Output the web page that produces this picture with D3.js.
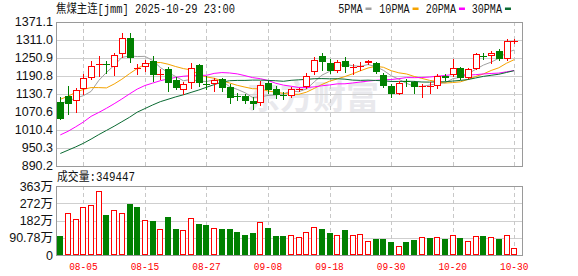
<!DOCTYPE html>
<html><head><meta charset="utf-8">
<script src="https://cdn.jsdelivr.net/npm/d3@7/dist/d3.min.js"></script>
<style>body{margin:0;background:#fff}svg{display:block}</style>
</head><body><svg id="c" width="578" height="276"></svg>
<script>
const dates = ["07-31","08-01","08-04","08-05","08-06","08-07","08-08","08-11","08-12","08-13","08-14","08-15","08-18","08-19","08-20","08-21","08-22","08-25","08-26","08-27","08-28","08-29","09-01","09-02","09-03","09-04","09-05","09-08","09-09","09-10","09-11","09-12","09-15","09-16","09-17","09-18","09-19","09-22","09-23","09-24","09-25","09-26","09-29","09-30","10-09","10-10","10-13","10-14","10-15","10-16","10-17","10-20","10-21","10-22","10-23","10-24","10-27","10-28","10-29","10-30"];
const open = [1103.9,1122.9,1106.2,1145.3,1183.1,1227.2,1231.5,1219.8,1262.2,1317.7,1214.8,1220.8,1239.8,1195.4,1214.8,1176.4,1143.0,1165.4,1226.5,1164.7,1161.4,1179.1,1153.0,1122.9,1122.9,1106.2,1098.6,1166.4,1145.3,1126.3,1121.3,1144.3,1152.0,1203.1,1256.5,1234.2,1206.4,1239.8,1218.1,1221.5,1234.8,1233.2,1192.4,1156.3,1131.3,1171.4,1168.1,1154.7,1152.3,1156.3,1188.1,1193.1,1217.5,1184.7,1214.8,1257.2,1255.5,1273.2,1246.5,1305.6];
const high = [1119.6,1156.3,1150.7,1196.4,1238.9,1257.5,1241.5,1267.6,1332.4,1334.4,1229.8,1243.2,1256.5,1214.8,1219.8,1186.4,1169.7,1234.2,1230.8,1188.1,1183.1,1182.1,1161.4,1133.9,1131.3,1119.6,1173.0,1174.7,1156.3,1136.3,1153.0,1149.7,1200.8,1254.2,1265.6,1245.5,1243.2,1252.2,1229.8,1236.5,1243.2,1236.5,1199.8,1163.0,1171.4,1179.7,1173.0,1162.0,1168.1,1196.4,1196.4,1244.9,1219.8,1218.1,1266.6,1268.2,1271.6,1279.9,1311.7,1313.3];
const low = [1044.5,1062.8,1071.2,1129.6,1178.1,1189.8,1199.8,1193.1,1252.2,1235.5,1196.4,1206.4,1174.0,1179.7,1139.6,1146.3,1129.6,1150.7,1156.3,1144.7,1138.0,1139.6,1099.6,1109.6,1098.6,1078.5,1092.9,1133.0,1117.3,1112.9,1119.6,1139.6,1149.7,1196.4,1209.8,1198.8,1203.1,1204.1,1196.4,1209.8,1228.2,1199.8,1153.0,1120.6,1129.6,1156.3,1133.0,1120.6,1133.0,1149.7,1176.4,1189.7,1178.1,1183.1,1213.1,1246.5,1233.2,1243.2,1243.2,1300.0];
const close = [1046.1,1096.2,1144.0,1182.1,1223.2,1229.2,1229.8,1260.9,1315.7,1248.9,1218.1,1233.2,1193.1,1197.4,1166.4,1149.7,1162.0,1217.5,1165.4,1162.4,1175.7,1149.7,1117.9,1120.3,1106.2,1096.2,1158.7,1143.0,1127.9,1124.6,1144.7,1146.3,1189.7,1244.2,1237.5,1207.4,1235.5,1220.8,1220.5,1224.8,1238.2,1202.1,1158.0,1131.3,1165.4,1169.7,1151.4,1156.3,1154.7,1188.1,1184.7,1218.1,1182.1,1213.1,1262.6,1254.9,1267.6,1246.5,1306.7,1306.7];
// volume in 万手
const vol = [100.0,219.2,187.6,250.8,263.0,334.9,210.4,235.0,219.2,268.3,250.8,182.4,178.9,135.0,199.9,136.8,129.8,192.9,163.1,157.8,140.3,136.8,136.8,121.0,105.2,115.7,171.9,142.0,100.0,100.0,103.5,92.9,119.2,145.5,136.8,115.7,103.5,129.8,103.5,108.7,73.7,84.2,84.2,70.1,45.6,70.1,78.9,92.9,89.4,92.9,84.2,103.5,89.4,73.7,98.2,100.0,92.9,84.2,103.5,34.9447];
// 1 = rose vs previous settlement (red), 0 = fell (green)
const volUp = [0,1,1,1,1,1,0,1,1,0,0,1,0,1,0,0,1,1,0,0,1,0,0,0,0,0,1,0,0,0,1,1,1,1,0,0,1,0,1,1,1,0,0,0,1,0,0,1,0,1,0,1,0,1,1,0,1,0,1,1];
const ma5 = [1097,1106,1116,1124,1138.3,1174.9,1201.7,1225.0,1251.8,1256.9,1254.7,1255.4,1241.8,1218.1,1201.6,1188.0,1173.7,1178.6,1172.2,1171.4,1176.6,1174.1,1154.2,1145.2,1134.0,1118.1,1119.9,1124.9,1126.4,1130.1,1139.8,1137.3,1146.6,1169.9,1192.5,1205.0,1222.9,1229.1,1224.3,1221.8,1228.0,1221.3,1208.7,1190.9,1179.0,1165.3,1155.2,1154.8,1159.5,1164.0,1167.0,1180.4,1185.5,1197.2,1212.1,1226.2,1236.1,1248.9,1267.7,1276.5];
const ma10 = [1112,1122,1135,1145,1151,1151,1150,1163,1179,1197.6,1214.8,1228.5,1233.4,1235.0,1229.3,1221.3,1214.5,1210.2,1195.2,1186.5,1182.3,1173.9,1166.4,1158.7,1152.7,1147.3,1147.0,1139.6,1135.8,1132.0,1128.9,1128.6,1135.8,1148.2,1161.3,1172.4,1180.1,1187.9,1197.1,1207.1,1216.5,1222.1,1218.9,1207.6,1200.4,1196.6,1188.2,1181.8,1175.2,1171.5,1166.2,1167.8,1170.2,1178.4,1188.1,1196.6,1208.2,1217.2,1232.4,1244.3];
const ma20 = [993,1005,1020,1036,1055,1068,1082,1097,1113,1130,1146,1158,1166,1174,1180,1185,1189,1191,1192,1192.1,1198.5,1201.2,1199.9,1196.8,1191.0,1184.3,1180.8,1174.9,1165.5,1159.3,1155.6,1151.3,1151.1,1153.4,1157.0,1159.9,1163.5,1163.7,1166.5,1169.6,1172.7,1175.3,1177.3,1177.9,1180.8,1184.5,1184.2,1184.8,1186.2,1189.3,1191.3,1194.9,1194.5,1193.0,1194.2,1196.6,1198.2,1199.5,1203.8,1207.9];
const ma30 = [931,942,953,965,979,994,1008,1022,1037,1052,1069,1081,1093,1104,1112,1120,1127,1135,1143,1152,1161,1169,1174,1175,1175,1176,1176,1175,1174,1172.1,1175.3,1177.0,1178.5,1180.6,1181.1,1180.4,1180.5,1179.2,1176.0,1175.2,1175.9,1174.9,1173.7,1171.5,1171.5,1172.1,1171.8,1169.7,1169.4,1170.2,1170.5,1172.8,1175.0,1178.0,1183.3,1188.5,1192.2,1195.6,1201.6,1207.7];
const priceTicks = [1371.1,1311.0,1250.9,1190.8,1130.7,1070.6,1010.4,950.3,890.2];
const priceTickLabels = ["1371.1","1311.0","1250.9","1190.8","1130.7","1070.6","1010.4","950.3","890.2"];
const volTicks = [363,272.25,181.5,90.78,0];
const volTickLabels = ["363万","272万","182万","90.78万","0"];
const dateTicks = ["08-05","08-15","08-27","09-08","09-18","09-30","10-20","10-30"];
const title = "焦煤主连[jmm] 2025-10-29 23:00";
const volTitle = "成交量:349447";
const maNames = ["5PMA","10PMA","20PMA","30PMA"];
const maColors = ["#a0a0a0","#f5a300","#ff00ff","#0a6a32"];

const svg = d3.select("#c");
const L = 56, R = 522;
const pTop = 21.7, pBot = 165.7, vTop = 186, vBot = 255;
const x = d3.scalePoint().domain(dates).range([60.3, 514.2]);
const y = d3.scaleLinear().domain([890.2, 1371.1]).range([pBot, pTop]);
const yv = d3.scaleLinear().domain([0, 363]).range([vBot, vTop]);
const RED = "#ff0000", GREEN = "#008000";
const mono = "'Liberation Mono','Noto Sans CJK SC',monospace";

// watermark
svg.append("text").attr("x", 247).attr("y", 109).attr("font-family", "'Noto Sans CJK SC'")
  .attr("font-weight", 700).attr("font-size", 33).attr("fill", "#e9e9ed").text("东方财富");

// grids
const g = svg.append("g").attr("shape-rendering", "crispEdges");
g.selectAll(".hp").data(priceTicks).join("line")
  .attr("x1", L).attr("x2", R).attr("y1", d => Math.round(y(d)) + 0.5).attr("y2", d => Math.round(y(d)) + 0.5)
  .attr("stroke", "#cfcfcf");
g.selectAll(".hv").data(volTicks).join("line")
  .attr("x1", L).attr("x2", R).attr("y1", d => Math.round(yv(d)) + 0.5).attr("y2", d => Math.round(yv(d)) + 0.5)
  .attr("stroke", "#cfcfcf");
[[pTop, pBot], [vTop, vBot]].forEach(([t, b]) => {
  g.append("g").selectAll("line").data(dateTicks).join("line")
    .attr("x1", d => Math.round(x(d)) + 0.5).attr("x2", d => Math.round(x(d)) + 0.5)
    .attr("y1", t).attr("y2", b).attr("stroke", "#c8c8c8").attr("stroke-dasharray", "4,3");
});

// MA lines
const idx = d3.range(dates.length);
[ma5, ma10, ma20, ma30].forEach((arr, k) => {
  svg.append("path").datum(idx)
    .attr("d", d3.line().x(i => x(dates[i])).y(i => y(arr[i])))
    .attr("fill", "none").attr("stroke", maColors[k]).attr("stroke-width", 1);
});

// candles
const cg = svg.append("g").attr("shape-rendering", "crispEdges");
idx.forEach(i => {
  const cx = Math.round(x(dates[i]));
  const up = close[i] >= open[i];
  const col = up ? RED : GREEN;
  const yo = y(open[i]), yc = y(close[i]);
  const top = Math.round(Math.min(yo, yc)), bot = Math.round(Math.max(yo, yc));
  cg.append("line").attr("x1", cx + 0.5).attr("x2", cx + 0.5)
    .attr("y1", Math.round(y(high[i]))).attr("y2", Math.round(y(low[i])) + 1).attr("stroke", col);
  if (bot - top < 1.5) {
    cg.append("line").attr("x1", cx - 3).attr("x2", cx + 4).attr("y1", top + 0.5).attr("y2", top + 0.5).attr("stroke", col);
  } else if (up) {
    cg.append("rect").attr("x", cx - 2.5).attr("y", top + 0.5).attr("width", 6).attr("height", bot - top - 1)
      .attr("fill", "#fff").attr("stroke", col);
  } else {
    cg.append("rect").attr("x", cx - 3).attr("y", top).attr("width", 7).attr("height", bot - top).attr("fill", col);
  }
});

// volume
idx.forEach(i => {
  const cx = Math.round(x(dates[i]));
  const t = Math.round(yv(vol[i]));
  if (volUp[i]) {
    cg.append("rect").attr("x", cx - 2.5).attr("y", t + 0.5).attr("width", 5).attr("height", vBot - t - 1)
      .attr("fill", "#fff").attr("stroke", RED);
  } else {
    cg.append("rect").attr("x", cx - 3).attr("y", t).attr("width", 6).attr("height", vBot - t).attr("fill", GREEN);
  }
});

// frames
const fr = svg.append("g").attr("shape-rendering", "crispEdges").attr("fill", "none").attr("stroke", "#9a9a9a");
fr.append("rect").attr("x", L + 0.5).attr("y", Math.round(pTop) + 0.5).attr("width", R - L).attr("height", Math.round(pBot) - Math.round(pTop));
fr.append("rect").attr("x", L + 0.5).attr("y", vTop + 0.5).attr("width", R - L).attr("height", vBot - vTop);

// axis labels
svg.append("g").selectAll("text").data(priceTicks).join("text")
  .attr("x", 53).attr("y", d => y(d)).attr("dy", "0.36em").attr("text-anchor", "end")
  .attr("font-family", "'Liberation Sans',Arial,sans-serif").attr("font-size", 12.5).attr("fill", "#111")
  .text((d, i) => priceTickLabels[i]);
svg.append("g").selectAll("text").data(volTicks).join("text")
  .attr("x", 53).attr("y", d => yv(d)).attr("dy", "0.36em").attr("text-anchor", "end")
  .attr("font-family", "'Liberation Sans','Noto Sans CJK SC',sans-serif").attr("font-size", 12.5).attr("fill", "#111")
  .text((d, i) => volTickLabels[i]);
svg.append("g").selectAll("text").data(dateTicks).join("text")
  .attr("x", d => x(d)).attr("y", 270).attr("text-anchor", "middle")
  .attr("font-family", mono).attr("font-size", 11.5).attr("fill", RED)
  .attr("textLength", 28.5).attr("lengthAdjust", "spacingAndGlyphs").text(d => d);

// titles
svg.append("text").attr("x", 56).attr("y", 12.5).attr("font-family", mono).attr("font-size", 12)
  .attr("fill", "#111").attr("textLength", 179).attr("lengthAdjust", "spacingAndGlyphs").text(title);
svg.append("text").attr("x", 57).attr("y", 181).attr("font-family", mono).attr("font-size", 12)
  .attr("fill", "#111").attr("textLength", 78).attr("lengthAdjust", "spacingAndGlyphs").text(volTitle);

// legend
const legX = [338.3, 379.3, 425.7, 471.7];
maNames.forEach((n, k) => {
  const w = n.length * 6.05;
  svg.append("text").attr("x", legX[k]).attr("y", 12.5).attr("font-family", mono).attr("font-size", 12)
    .attr("fill", "#111").attr("textLength", w).attr("lengthAdjust", "spacingAndGlyphs").text(n);
  svg.append("rect").attr("x", legX[k] + w + 3).attr("y", 7.5).attr("width", 6).attr("height", 2.5)
    .attr("fill", maColors[k]);
});
</script></body></html>
